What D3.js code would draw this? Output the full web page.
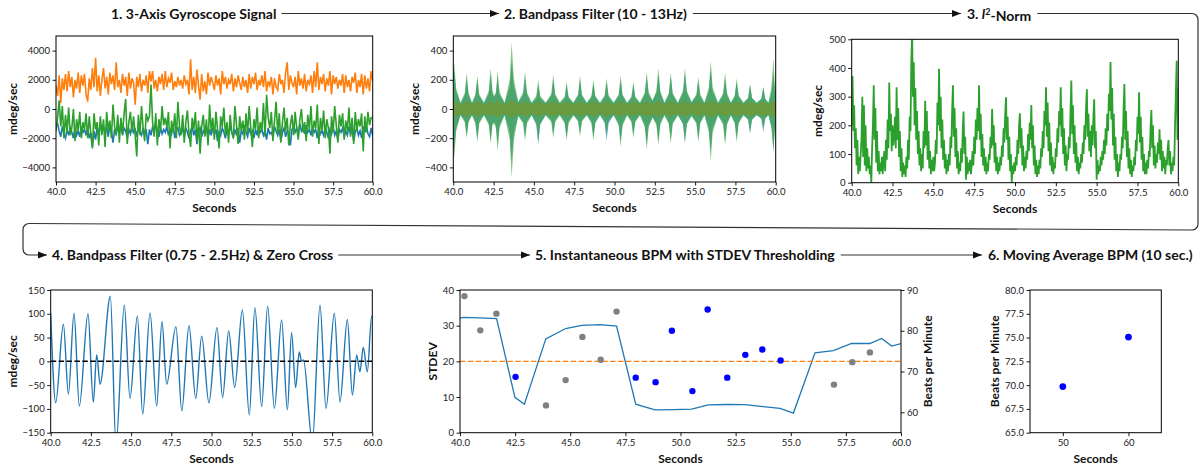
<!DOCTYPE html>
<html><head><meta charset="utf-8">
<script src="https://cdn.jsdelivr.net/npm/d3@7"></script>
<style>
body{margin:0;background:#fff}
text{font-family:Lato,"Open Sans",sans-serif}
</style></head><body>
<svg id="c" width="1200" height="466"></svg>
<script>
// ---------- DATA ----------
const titles = ["1. 3-Axis Gyroscope Signal","2. Bandpass Filter (10 - 13Hz)","3. l2-Norm",
  "4. Bandpass Filter (0.75 - 2.5Hz) & Zero Cross","5. Instantaneous BPM with STDEV Thresholding","6. Moving Average BPM (10 sec.)"];
const secTicks = [40,42.5,45,47.5,50,52.5,55,57.5,60];

// Panel 1: gyroscope samples every 0.1 s from 40 s
const gyroStart = 40, gyroStep = 0.1;
const gyroX = [-1200,-1000,-1500,-1900,-1200,-1700,-2000,-1400,-1800,-1300,
-1600,-2000,-1300,-1800,-1500,-1900,-1200,-1600,-1400,-1800,
-1300,-2000,-1600,-2600,-1500,-2100,-1200,-1800,-1000,-1500,
-1200,-1600,-1300,-1900,-1100,-1500,-2300,-1400,-1700,-1200,
-1600,-1000,-1800,-1300,-1500,-2000,-1400,-1700,-1100,-1600,
-1400,-1900,-1200,-1600,-1800,-1300,-1700,-1500,-2400,-1400,
-1800,-1200,-1600,-1000,-1500,-1900,-1300,-1700,-1400,-1600,
-1200,-1800,-1400,-1700,-1100,-2000,-1500,-1300,-1800,-1600,
-1400,-1900,-1300,-1600,-2000,-1500,-1200,-1800,-1400,-2400,
-1600,-1300,-1900,-1500,-1700,-1200,-2000,-1400,-1800,-1300,
-1700,-1400,-2200,-1500,-1800,-1300,-1600,-2000,-1400,-1700,
-1200,-1600,-1900,-1400,-1800,-1300,-2300,-1500,-1700,-1100,
-1600,-1900,-1300,-1700,-1500,-2000,-1400,-1800,-1200,-1600,
-1400,-1800,-1500,-2100,-1300,-1700,-1600,-1900,-1200,-1500,
-1800,-1400,-2200,-1600,-1300,-1900,-1500,-1700,-2500,-1400,
-1200,-1600,-1300,-1800,-1000,-1500,-1300,-1700,-1100,-1600,
-1400,-1800,-1200,-1600,-1400,-2000,-1300,-1700,-1500,-1800,
-1300,-1600,-2000,-1400,-1700,-1200,-1800,-1500,-2100,-1400,
-1600,-1300,-1900,-1500,-1800,-1200,-1700,-1400,-2200,-1600,
-1300,-1800,-1500,-2000,-1200,-1600,-1100,-1700,-1900,-1300,
-1800];
const gyroY = [1600,900,2300,400,2100,1300,2400,1200,2600,1500,
2200,800,2000,1400,2500,1100,2300,1600,2400,1000,
500,2100,1300,2800,1500,3500,1200,2300,900,2000,
2800,1400,2200,1000,2500,1700,2300,1300,3200,1500,
2000,1100,2400,1600,2200,900,2500,1400,2100,1800,
300,2200,1500,2400,1200,2000,1600,2300,1100,2600,
1900,2600,1400,2000,1200,2200,1700,2400,1300,2600,
1500,2100,1800,2500,1300,1900,1500,2200,1600,2000,
1400,2300,1700,2000,1000,3400,1300,2200,1100,2700,
1600,640,2400,1200,1900,1000,2500,1600,2200,1800,
1300,2300,1600,2100,1000,2600,1700,2200,1400,2000,
1700,2400,1200,2100,1500,2300,1800,1300,2200,1500,
2000,1100,2400,1400,2200,1700,2500,1300,2000,1600,
2300,1500,2600,1200,1900,1600,2200,1000,2100,1500,
1300,2400,1700,2000,1100,2500,3200,1300,2300,1800,
1500,2200,1000,2600,1600,2100,1400,2400,1200,2000,
1700,2300,1100,2600,1500,3200,1300,2200,1700,2400,
1200,2100,1600,2600,1000,2300,1700,2200,1400,2000,
1600,2400,1100,2300,1500,2000,1200,2200,1800,2500,
1100,2000,1500,2400,1000,2300,1400,2100,1200,2600,
1900];
const gyroZ = [-1500,-600,600,-1200,200,-2000,-400,-1600,100,-1800,
-1300,0,-2200,-700,-1500,-200,-2000,-900,-1400,-300,
-2000,-500,-1700,-2700,-300,-1400,-900,-2500,-500,-1800,
-700,-2600,-200,-1500,-800,-2000,300,-1200,-1800,-400,
-2300,-600,-1700,-300,690,-2400,-900,-200,-1600,-500,
-1800,-3250,-400,-1800,200,-1300,-2200,-300,-800,-500,
1670,-900,-1900,-300,-2500,-700,-1500,200,-1100,-600,
-1300,-200,-2700,-800,-1600,-300,-2000,500,-1200,-1800,
-400,-2300,-900,-100,-1700,-2600,-600,-1400,-200,-2200,
-800,-3060,-1200,-400,-1900,-700,-2500,300,-1500,-600,
-2100,-200,-1400,-2700,-500,-1200,100,-1800,-900,-2300,
-400,-1600,-2000,200,-1100,-2400,-500,-1500,-800,-2100,
-300,-1700,200,-1300,-2600,-700,-1400,100,-2000,-900,
-1500,400,-1900,980,-600,-1300,-200,-2200,-800,500,
-1700,-300,-2300,-900,100,-1500,-600,-2500,-1100,-400,
-1800,-200,-1300,-2100,-700,0,-1600,-900,-2200,-400,
-1400,200,-1900,-800,-1300,300,-2400,-600,-1500,-100,
-2000,-700,-1300,-3060,-500,-1600,200,-1100,-2300,-400,
-1200,-300,-2100,-800,-1500,100,-1900,-600,-2400,-200,
-1500,-700,-1200,-300,-2900,-500,-1600,-200,-1100,-600,
-600];

// Panel 2: 10-13 Hz band envelopes (per pulse: shoulder, peak, shoulder, trough)
const envT = [40.00,40.06,40.18,40.45, 40.71,40.83,40.95,41.16, 41.37,41.49,41.61,41.90, 42.20,42.32,42.43,42.53,
42.64,42.75,42.87,43.18, 43.50,43.62,43.76,44.03, 44.33,44.45,44.57,44.86, 45.15,45.27,45.39,45.73,
46.08,46.20,46.32,46.60, 46.91,47.03,47.15,47.45, 47.74,47.86,47.98,48.28, 48.57,48.69,48.81,49.10,
49.39,49.51,49.63,49.95, 50.26,50.38,50.50,50.78, 51.05,51.17,51.29,51.58, 51.88,52.00,52.12,52.36,
52.60,52.72,52.84,53.10, 53.37,53.49,53.61,53.93, 54.25,54.37,54.49,54.78, 55.08,55.20,55.32,55.58,
55.85,55.97,56.09,56.42, 56.74,56.86,56.98,57.22, 57.46,57.58,57.70,58.00, 58.29,58.41,58.53,58.82,
59.11,59.23,59.35,59.55, 59.74,59.86,59.95,60.00];
const envGreenHi = [290,310,140,45, 110,250,110,45, 100,230,100,45, 125,280,125,90,
115,260,115,45, 200,455,200,50, 115,260,115,45, 90,200,90,45,
105,240,105,45, 85,190,85,45, 100,230,100,45, 90,200,90,45,
95,210,95,45, 100,230,100,45, 85,190,85,45, 115,255,115,60,
125,280,125,45, 110,250,110,45, 125,285,125,50, 100,220,100,45,
145,330,145,45, 110,250,110,45, 95,210,95,45, 75,170,75,45,
70,150,70,45, 155,350,150,200];
const envGreenLo = [-320,-330,-150,-45, -90,-200,-90,-45, -100,-230,-100,-45, -110,-240,-110,-100,
-130,-290,-130,-45, -210,-470,-210,-50, -100,-220,-100,-45, -100,-230,-100,-45,
-90,-200,-90,-45, -100,-220,-100,-45, -85,-190,-85,-45, -100,-220,-100,-45,
-80,-180,-80,-45, -115,-260,-115,-45, -90,-200,-90,-45, -125,-280,-125,-60,
-110,-250,-110,-45, -105,-240,-105,-45, -100,-230,-100,-50, -100,-230,-100,-45,
-160,-360,-160,-45, -110,-250,-110,-45, -100,-230,-100,-45, -70,-160,-70,-45,
-60,-130,-60,-45, -130,-300,-135,-250];
const envBlueHi = [220,260,120,40, 95,210,95,40, 90,200,90,40, 105,240,105,80,
100,220,100,40, 150,330,150,45, 100,220,100,40, 75,170,75,40,
90,200,90,40, 75,165,75,40, 90,200,90,40, 80,175,80,40,
85,185,85,40, 90,200,90,40, 75,165,75,40, 100,220,100,55,
110,240,110,40, 100,220,100,40, 110,245,110,45, 90,195,90,40,
120,270,120,40, 95,215,95,40, 85,185,85,40, 75,165,75,40,
70,150,70,40, 110,250,110,150];
const envBlueLo = [-250,-280,-130,-40, -80,-180,-80,-40, -90,-200,-90,-40, -95,-210,-95,-90,
-110,-240,-110,-40, -160,-360,-160,-45, -85,-190,-85,-40, -110,-240,-110,-40,
-75,-170,-75,-40, -85,-190,-85,-40, -75,-165,-75,-40, -85,-190,-85,-40,
-100,-220,-100,-40, -100,-220,-100,-40, -80,-175,-80,-40, -110,-240,-110,-55,
-95,-215,-95,-40, -90,-205,-90,-40, -105,-230,-105,-45, -90,-200,-90,-40,
-130,-290,-130,-40, -95,-215,-95,-40, -90,-200,-90,-40, -75,-170,-75,-40,
-70,-160,-70,-40, -125,-280,-125,-200];
const envOrange = [50,60,45,35, 45,55,45,35, 45,55,45,35, 45,60,45,40,
45,60,45,35, 50,70,50,35, 45,55,45,35, 45,55,45,35,
45,55,45,35, 45,50,45,35, 45,55,45,35, 45,55,45,35,
45,55,45,35, 45,55,45,35, 45,50,45,35, 45,55,45,40,
45,60,45,35, 45,55,45,35, 45,60,45,35, 45,55,45,35,
50,65,50,35, 45,55,45,35, 45,55,45,35, 45,50,45,35,
45,50,45,35, 45,60,45,50];

// Panel 3: l2-norm samples every 0.05 s from 40 s
const normStart = 40, normStep = 0.05;
const normVals = [200,372,180,270,120,190,60,150,30,90,40,100,150,300,90,270,60,200,40,120,
50,90,30,60,0,120,200,340,150,260,70,180,40,110,30,70,40,90,30,80,
110,40,150,80,220,120,349,180,240,110,200,130,160,230,120,333,150,260,90,180,
40,120,20,70,30,60,20,90,50,150,80,230,180,420,520,300,420,200,330,150,
250,100,180,60,120,40,100,50,180,120,286,130,250,80,180,50,110,30,80,40,
90,40,70,150,100,280,200,397,180,300,120,220,80,150,50,100,30,80,40,100,
60,160,120,250,340,160,260,90,190,50,110,30,70,40,120,70,180,248,100,160,
10,90,30,70,40,80,30,60,110,60,160,100,220,150,260,180,340,150,240,90,
170,60,120,40,90,30,70,40,100,80,160,120,257,130,200,70,140,40,90,30,
70,40,90,60,130,90,190,140,240,298,150,230,80,160,40,100,0,60,30,70,
40,90,60,150,100,200,242,120,190,60,130,40,90,50,110,80,170,110,210,150,
271,120,200,60,130,30,80,20,60,30,80,50,120,90,180,120,250,200,333,160,
280,110,210,60,140,40,90,30,70,50,120,90,190,140,250,200,333,160,260,100,
190,60,130,40,100,80,160,120,250,356,170,270,100,200,70,140,40,90,30,70,
50,100,70,140,100,200,150,260,326,160,240,110,180,90,200,130,230,291,120,180,
10,80,30,60,40,90,60,110,80,150,100,190,130,240,180,310,250,421,220,330,
130,240,80,160,40,100,20,70,40,100,80,160,120,260,344,150,250,90,180,50,
120,30,80,20,60,40,90,60,150,110,230,170,315,140,230,80,160,40,100,30,
70,30,80,50,110,90,190,253,120,200,60,130,50,100,70,140,100,186,80,150,
40,110,50,90,30,80,60,120,149,60,110,30,70,40,90,60,200,310,425,150,
330];

// Panel 4: 0.75-2.5 Hz filtered signal (turning points)
const bpfT = [40.0,40.31,40.79,41.1,41.45,41.78,42.32,42.65,42.86,43.07,43.71,44.06,44.58,44.93,45.39,45.72,46.18,46.59,46.92,47.21,
47.79,48.15,48.6,49.02,49.39,49.84,50.34,50.69,51.07,51.44,51.92,52.35,52.7,53.12,53.49,53.91,54.36,54.72,54.98,55.23,
55.46,55.6,55.72,56.27,56.75,57.12,57.64,57.99,58.45,58.76,59.03,59.23,59.44,59.69,59.96,60.0];
const bpfV = [101,-87,78,-69,101,-94,100,-86,14,-48,137,-175,118,-78,95,-111,102,-94,84,-48,
73,-104,75,-78,53,-87,71,-76,64,-55,108,-113,113,-95,116,-99,87,-102,60,-55,
20,0,3,-170,118,-99,101,-85,88,-71,13,-22,29,-22,95,93];

// Panel 5: STDEV and instantaneous BPM
const stdT = [40.0,40.15,40.9,41.66,42.49,42.92,43.89,44.79,45.52,46.35,47.1,47.97,48.84,49.67,50.51,51.26,52.09,52.92,53.75,54.51,55.12,56.1,56.93,57.76,58.59,59.12,59.58,60.0];
const stdV = [32.1,32.3,32.2,32.0,9.9,8.0,26.3,29.2,30.1,30.3,29.9,8.0,6.4,6.45,6.6,7.8,7.9,7.85,7.3,6.8,5.5,22.4,23.0,25.0,25.0,26.4,24.3,25.0];
const stdThreshold = 20;
const rejT = [40.2,40.92,41.65,43.9,44.79,45.55,46.38,47.1,56.96,57.79,58.59];
const rejBpm = [88.5,80.1,84.2,61.7,67.9,78.5,72.9,84.7,66.8,72.3,74.7];
const accT = [42.52,47.97,48.87,49.61,50.54,51.23,52.12,52.94,53.71,54.54];
const accBpm = [68.7,68.5,67.4,80.0,65.2,85.2,68.5,74.1,75.4,72.7];

// Panel 6: moving average BPM
const maT = [50,60];
const maBpm = [69.85,75.05];

// ---------- DRAWING ----------
const svg = d3.select('#c');
const C = {blue:'#1f77b4',orange:'#ff7f0e',green:'#2ca02c'};
let cid = 0;
function panel(box, xd, yd){
  const x = d3.scaleLinear().domain(xd).range([box.l, box.r]);
  const y = d3.scaleLinear().domain(yd).range([box.b, box.t]);
  const id = 'clip'+(++cid);
  svg.append('clipPath').attr('id',id).append('rect')
    .attr('x',box.l).attr('y',box.t).attr('width',box.r-box.l).attr('height',box.b-box.t);
  const g = svg.append('g').attr('clip-path',`url(#${id})`);
  return {x,y,g,box};
}
function styleAxis(sel){
  sel.select('.domain').remove();
  sel.selectAll('line').attr('stroke','#000').attr('stroke-width',0.9);
  sel.selectAll('text').attr('fill','#1a1a1a').style('font-size','9.6px').style('font-family','Lato, sans-serif');
}
function axes(p, o){
  const b = p.box;
  const ax = svg.append('g').attr('transform',`translate(0,${b.b})`)
    .call(d3.axisBottom(p.x).tickValues(o.xt).tickFormat(o.xf).tickSize(3.5).tickPadding(2.5));
  styleAxis(ax);
  const ay = svg.append('g').attr('transform',`translate(${b.l},0)`)
    .call(d3.axisLeft(p.y).tickValues(o.yt).tickFormat(o.yf).tickSize(3.5).tickPadding(2.5));
  styleAxis(ay);
  svg.append('rect').attr('x',b.l).attr('y',b.t).attr('width',b.r-b.l).attr('height',b.b-b.t)
    .attr('fill','none').attr('stroke','#000').attr('stroke-width',1);
  svg.append('text').attr('x',(b.l+b.r)/2).attr('y',b.b+30).attr('text-anchor','middle')
    .style('font-weight','700').style('font-size','12px').attr('fill','#111').text('Seconds');
  svg.append('text').attr('transform',`translate(${o.ylx},${(b.t+b.b)/2}) rotate(-90)`)
    .attr('text-anchor','middle').attr('dy','0.35em')
    .style('font-weight','700').style('font-size','12px').attr('fill','#111').text(o.yl);
}
const f1 = d3.format('.1f'), fd = d3.format('d');

// Panel 1
{
  const p = panel({l:56,r:372.7,t:36,b:182},[40,60],[-5000,5000]);
  const tx = (d,i)=>p.x(gyroStart+i*gyroStep);
  const line = d3.line().x(tx).y(d=>p.y(d));
  [[gyroX,C.blue],[gyroY,C.orange],[gyroZ,C.green]].forEach(([s,c])=>{
    p.g.append('path').datum(s).attr('d',line).attr('fill','none').attr('stroke',c).attr('stroke-width',1.6);
  });
  axes(p,{xt:secTicks,xf:f1,yt:[-4000,-2000,0,2000,4000],yf:fd,yl:'mdeg/sec',ylx:13});
}
// Panel 2
{
  const p = panel({l:453.3,r:775.7,t:36,b:182},[40,60],[-500,500]);
  const area = (hi,lo)=>d3.area().x((d,i)=>p.x(envT[i])).y0((d,i)=>p.y(lo[i])).y1((d,i)=>p.y(hi[i]));
  const oLo = envOrange.map(v=>-v);
  p.g.append('path').datum(envT).attr('d',area(envBlueHi,envBlueLo)).attr('fill',C.blue).attr('fill-opacity',0.6);
  p.g.append('path').datum(envT).attr('d',area(envOrange,oLo)).attr('fill',C.orange).attr('fill-opacity',0.6);
  p.g.append('path').datum(envT).attr('d',area(envGreenHi,envGreenLo)).attr('fill',C.green).attr('fill-opacity',0.6);
  axes(p,{xt:secTicks,xf:f1,yt:[-400,-200,0,200,400],yf:fd,yl:'mdeg/sec',ylx:415});
}
// Panel 3
{
  const p = panel({l:851.7,r:1178.3,t:39.3,b:182.7},[40,60],[0,500]);
  const line = d3.line().x((d,i)=>p.x(normStart+i*normStep)).y(d=>p.y(d));
  p.g.append('path').datum(normVals).attr('d',line).attr('fill','none').attr('stroke',C.green).attr('stroke-width',1.8);
  axes(p,{xt:secTicks,xf:f1,yt:[0,100,200,300,400,500],yf:fd,yl:'mdeg/sec',ylx:818});
}
// Panel 4
{
  const p = panel({l:50.7,r:372.3,t:290,b:432.7},[40,60],[-150,150]);
  const line = d3.line().x((d,i)=>p.x(bpfT[i])).y(d=>p.y(d)).curve(d3.curveMonotoneX);
  p.g.append('path').datum(bpfV).attr('d',line).attr('fill','none').attr('stroke',C.blue).attr('stroke-width',1.4);
  p.g.append('line').attr('x1',p.x(40)).attr('x2',p.x(60)).attr('y1',p.y(0)).attr('y2',p.y(0))
    .attr('stroke','#000').attr('stroke-width',1.5).attr('stroke-dasharray','5.5,2.4');
  axes(p,{xt:secTicks,xf:f1,yt:[-150,-100,-50,0,50,100,150],yf:fd,yl:'mdeg/sec',ylx:13});
}
// Panel 5
{
  const box = {l:460,r:901,t:290,b:432.7};
  const p = panel(box,[40,60],[0,40]);
  const yR = d3.scaleLinear().domain([55,90]).range([box.b,box.t]);
  const line = d3.line().x((d,i)=>p.x(stdT[i])).y(d=>p.y(d));
  p.g.append('path').datum(stdV).attr('d',line).attr('fill','none').attr('stroke',C.blue).attr('stroke-width',1.3);
  p.g.append('line').attr('x1',p.x(40)).attr('x2',p.x(60)).attr('y1',p.y(stdThreshold)).attr('y2',p.y(stdThreshold))
    .attr('stroke',C.orange).attr('stroke-width',1.4).attr('stroke-dasharray','5.5,2.4');
  p.g.selectAll('.rej').data(rejT).enter().append('circle').attr('cx',d=>p.x(d)).attr('cy',(d,i)=>yR(rejBpm[i])).attr('r',3.2).attr('fill','grey');
  p.g.selectAll('.acc').data(accT).enter().append('circle').attr('cx',d=>p.x(d)).attr('cy',(d,i)=>yR(accBpm[i])).attr('r',3.2).attr('fill','blue');
  axes(p,{xt:secTicks,xf:f1,yt:[0,10,20,30,40],yf:fd,yl:'STDEV',ylx:433});
  const ar = svg.append('g').attr('transform',`translate(${box.r},0)`)
    .call(d3.axisRight(yR).tickValues([60,70,80,90]).tickFormat(fd).tickSize(3.5).tickPadding(2.5));
  styleAxis(ar);
  svg.append('text').attr('transform',`translate(928,${(box.t+box.b)/2}) rotate(-90)`)
    .attr('text-anchor','middle').attr('dy','0.35em')
    .style('font-weight','700').style('font-size','12px').attr('fill','#111').text('Beats per Minute');
}
// Panel 6
{
  const p = panel({l:1030,r:1161.3,t:290,b:432.7},[45,65],[65,80]);
  p.g.selectAll('circle').data(maT).enter().append('circle').attr('cx',d=>p.x(d)).attr('cy',(d,i)=>p.y(maBpm[i])).attr('r',3.4).attr('fill','blue');
  axes(p,{xt:[50,60],xf:fd,yt:[65,67.5,70,72.5,75,77.5,80],yf:f1,yl:'Beats per Minute',ylx:995});
}

// ---------- TITLES & FLOW ARROWS ----------
const tpos = [[111,13.5],[504,13.5],[967,13.5],[52,255],[535,255],[988,255]];
const tEls = titles.map((t,i)=>{
  const el = svg.append('text').attr('x',tpos[i][0]).attr('y',tpos[i][1]).attr('dy','0.36em')
    .style('font-weight','700').style('font-size','14px').attr('fill','#111');
  if(i===2){
    el.append('tspan').text('3. ');
    el.append('tspan').style('font-style','italic').text('l');
    el.append('tspan').attr('dy','-0.4em').style('font-size','9px').text('2');
    el.append('tspan').attr('dy','0.4em').text('-Norm');
  } else el.text(t);
  return el;
});
const ext = tEls.map((el,i)=>[tpos[i][0], tpos[i][0]+el.node().getComputedTextLength()]);
const LC = '#333';
function arrowHead(xTip,y){
  svg.append('path').attr('d',`M${xTip},${y}L${xTip-9},${y-3.4}L${xTip-9},${y+3.4}Z`).attr('fill','#111');
}
function seg(x1,x2,y){
  svg.append('line').attr('x1',x1).attr('x2',x2).attr('y1',y).attr('y2',y).attr('stroke',LC).attr('stroke-width',1.2);
  arrowHead(x2,y);
}
seg(ext[0][1]+5, ext[1][0]-5, 13.5);
seg(ext[1][1]+6, ext[2][0]-6, 13.5);
{
  const pth = d3.path(), r=6;
  pth.moveTo(ext[2][1]+6,13.5);
  pth.lineTo(1198-r,13.5);
  pth.arcTo(1198,13.5,1198,13.5+r,r);
  pth.lineTo(1198,230-r);
  pth.arcTo(1198,230,1198-r,230,r);
  pth.lineTo(23+r,223.5);
  pth.arcTo(23,223.5,23,223.5+r,r);
  pth.lineTo(23,255-r);
  pth.arcTo(23,255,23+r,255,r);
  pth.lineTo(ext[3][0]-5,255);
  svg.append('path').attr('d',pth.toString()).attr('fill','none').attr('stroke',LC).attr('stroke-width',1.2);
  arrowHead(ext[3][0]-5,255);
}
seg(ext[3][1]+5, ext[4][0]-5, 255);
seg(ext[4][1]+6, ext[5][0]-6, 255);
</script>
</body></html>
